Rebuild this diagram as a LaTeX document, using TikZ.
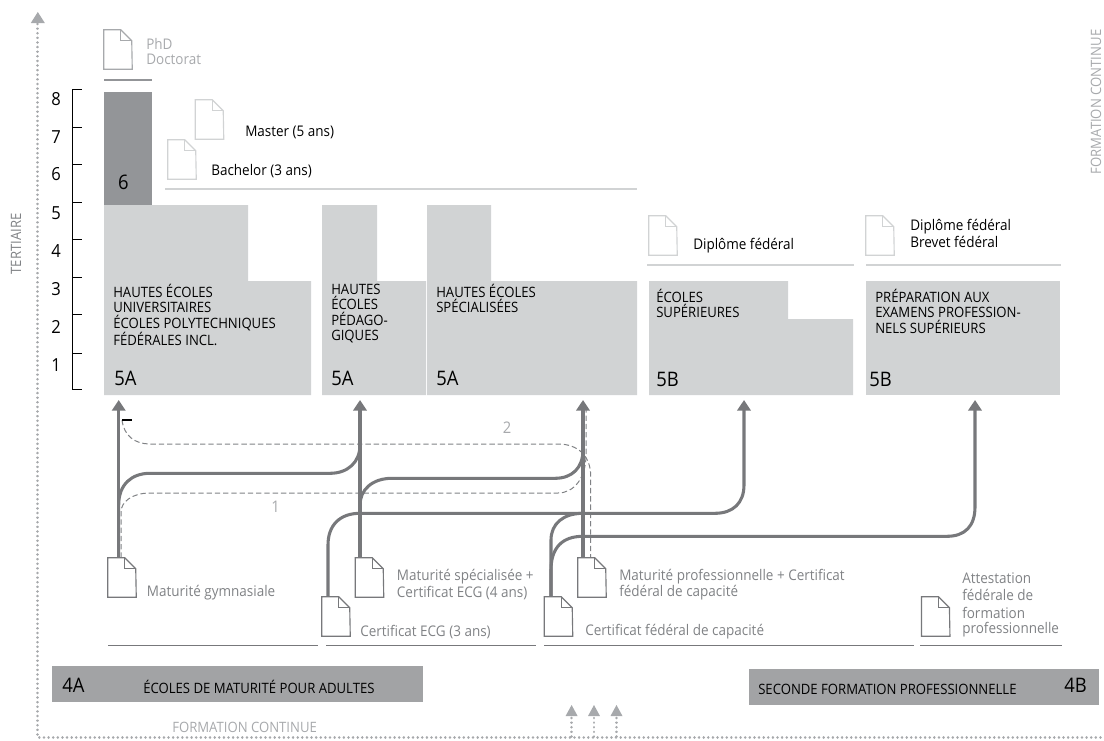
\documentclass[tikz,border=0pt]{standalone}
\usepackage{fontspec}
\setmainfont[FakeStretch=0.92]{Open Sans}
\usetikzlibrary{arrows.meta,calc}
\definecolor{boxl}{HTML}{D1D3D4}
\definecolor{boxd}{HTML}{939598}
\definecolor{boxm}{HTML}{A2A3A5}
\definecolor{ln}{HTML}{77787B}
\definecolor{txtg}{HTML}{808285}
\definecolor{dotc}{HTML}{A7A9AC}
\tikzset{
 x=0.75pt,y=-0.75pt,
 lab/.style={anchor=west,inner sep=0pt,font=\fontsize{11}{11.5}\selectfont,align=left},
 caplab/.style={lab,font=\fontsize{10.7}{11.5}\selectfont},
 boxlab/.style={anchor=north west,inner sep=0pt,font=\fontsize{10.7}{11.5}\selectfont,align=left,text=black},
 num/.style={inner sep=0pt,font=\fontsize{15}{15}\selectfont,text=black},
 lvl/.style={inner sep=0pt,font=\fontsize{13.5}{13.5}\selectfont,text=black},
 glab/.style={lab,text=txtg,font=\fontsize{11}{11.5}\selectfont},
 llab/.style={lab,text=dotc},
 blab/.style={lab,text=black},
 flow/.style={draw=ln,line width=2.3pt,-{Triangle[length=8pt,width=10pt]}},
 flown/.style={draw=ln,line width=2.3pt},
 dashl/.style={draw=txtg,line width=0.75pt,dash pattern=on 4pt off 2.2pt},
 dotl/.style={draw=dotc,line width=2pt,dash pattern=on 0.01pt off 3.45pt,line cap=round},
 dothead/.style={fill=dotc,draw=none},
 rulel/.style={draw=ln,line width=1pt},
 rulem/.style={draw=boxd,line width=1pt},
 rulell/.style={draw=boxl,line width=1pt},
 docnode/.style={inner sep=0pt,minimum width=21pt,minimum height=29.25pt,draw=none,fill=none},
 tick/.style={draw=black,line width=0.7pt},
}
% document icon: name, left x, top y, colour
\newcommand{\docat}[4]{%
 \node[docnode] (#1) at (#2+14,#3+19.5) {};
 \fill[white] (#1.north west) -- ++(17,0) -- ++(11,11) -- (#1.south east) -- (#1.south west) -- cycle;
 \draw[#4,line width=0.85pt] (#1.north west) -- ++(17,0) -- ++(11,11) -- (#1.south east) -- (#1.south west) -- cycle;
 \draw[#4,line width=0.85pt] ($(#1.north west)+(17,0)$) -- ++(0,11) -- ++(11,0);
}
\begin{document}
\begin{tikzpicture}
\useasboundingbox (0,0) rectangle (1104,740);
% dotted frame
\coordinate (axtop) at (37.8,12);
\coordinate (axcorner) at (37.8,737.5);
\coordinate (axend) at (1104,737.5);
\draw[dotl] (37.8,24) -- (axcorner) -- (axend);
\fill[dothead] (axtop) -- ++(7,11) -- ++(-14,0) -- cycle;
\foreach \n/\xx in {a/571.6,b/594,c/616.5}{
  \coordinate (sm\n) at (\xx,705);
  \draw[dotl] (\xx,718) -- (\xx,737.5);
  \fill[dothead] (sm\n) -- ++(6,11) -- ++(-12,0) -- cycle;
}
% level scale
\coordinate (sctop) at (72,89);
\coordinate (scbot) at (72,389);
\draw[tick] (sctop) -- (scbot);
\foreach \yy in {89,127,164,202,239,277,314,353,389}{\draw[tick] (72,\yy) -- (82,\yy);}
\foreach \t/\yy in {8/99,7/137,6/174,5/213,4/251,3/289,2/327,1/365}{\node[lvl] (lv\t) at (56,\yy) {\t};}
% boxes
\fill[boxd] (104,92) rectangle (152,205);
\fill[boxl] (104,205) -- (248,205) -- (248,281) -- (311,281) -- (311,395) -- (104,395) -- cycle;
\fill[boxl] (322,205) -- (377,205) -- (377,281) -- (426,281) -- (426,395) -- (322,395) -- cycle;
\fill[boxl] (427,205) -- (491,205) -- (491,281) -- (637,281) -- (637,395) -- (427,395) -- cycle;
\fill[boxl] (649,281) -- (788,281) -- (788,319) -- (853,319) -- (853,395) -- (649,395) -- cycle;
\fill[boxl] (866,281) rectangle (1060,395);
\fill[boxm] (52,666) rectangle (423,702);
\fill[boxm] (749,669) rectangle (1099,705);
% box texts
\node[num] (n6) at (123.5,182) {6};
\node[num,anchor=west] (n5a) at (114,378) {5A};
\node[num,anchor=west] (n5b) at (331,378) {5A};
\node[num,anchor=west] (n5c) at (436,378) {5A};
\node[num,anchor=west] (n5d) at (656,379) {5B};
\node[num,anchor=west] (n5e) at (869,379) {5B};
\node[num,anchor=west] (n4a) at (62,685) {4A};
\node[num,anchor=east] (n4b) at (1087,685) {4B};
\node[boxlab] (t1) at (113,284) {HAUTES ÉCOLES\\UNIVERSITAIRES\\ÉCOLES POLYTECHNIQUES\\FÉDÉRALES INCL.};
\node[boxlab] (t2) at (331,284) {HAUTES\\ÉCOLES\\PÉDAGO-\\GIQUES};
\node[boxlab] (t3) at (436,284) {HAUTES ÉCOLES\\SPÉCIALISÉES};
\node[boxlab] (t4) at (656,289) {ÉCOLES\\SUPÉRIEURES};
\node[boxlab] (t5) at (875,289) {PRÉPARATION AUX\\EXAMENS PROFESSION-\\NELS SUPÉRIEURS};
\node[caplab,text=black] (t6) at (143,687) {ÉCOLES DE MATURITÉ POUR ADULTES};
\node[caplab,text=black] (t7) at (758,689) {SECONDE FORMATION PROFESSIONNELLE};
\node[caplab,text=dotc] (t8) at (172,727) {FORMATION CONTINUE};
\node[caplab,anchor=center,rotate=90,text=txtg] (t9) at (16,244) {TERTIAIRE};
\node[caplab,anchor=center,rotate=90,text=dotc] (t10) at (1096,102) {FORMATION CONTINUE};
% rules
\draw[rulem] (104,80) -- (152,80);
\draw[rulell] (165,189) -- (637,189);
\draw[rulell] (647,265) -- (854,265);
\draw[rulell] (866,265) -- (1061,265);
\draw[rulel] (108,645.7) -- (318,645.7);
\draw[rulel] (326,645.7) -- (536,645.7);
\draw[rulel] (544,645.7) -- (914,645.7);
\draw[rulel] (920,645.7) -- (1062,645.7);
% upper documents
\docat{dphd}{104}{30}{dotc}
\docat{dmas}{195.5}{100}{boxl}
\docat{dbac}{168}{140}{boxl}
\docat{ddf}{649}{216}{boxl}
\docat{ddb}{866}{216}{boxl}
\node[llab] (lphd) at (146,44) {PhD};
\node[llab] (ldoc) at (146,59) {Doctorat};
\node[blab] (lmas) at (245,132) {Master (5 ans)};
\node[blab] (lbac) at (211,171) {Bachelor (3 ans)};
\node[blab] (ldf) at (693,246) {Diplôme fédéral};
\node[blab] (ldb1) at (910,227) {Diplôme fédéral};
\node[blab] (ldb2) at (910,242) {Brevet fédéral};
% arrow tips
\coordinate (tipa) at (118.7,400);
\coordinate (tipb) at (360,400);
\coordinate (tipc) at (583,400);
\coordinate (tipd) at (744,400);
\coordinate (tipe) at (975,400);
\coordinate (dasha) at (122,420);
\coordinate (tickend) at (132,420);
\coordinate (dashb) at (586,405);
% lower documents (node positions)
\node[docnode] (dgym) at (122,577.5) {};
\node[docnode] (dspe) at (369.5,577.5) {};
\node[docnode] (decg) at (336,616.5) {};
\node[docnode] (dpro) at (592,577.5) {};
\node[docnode] (dcfc) at (558.5,616.5) {};
% dashed routes
\draw[dashl] (dasha) .. controls (124,436) and (135,444) .. (150,444) -- (558,444) .. controls (578,444) and (590.7,456) .. (590.7,476) -- (dpro.north -| 590.7,0);
\draw[dashl] (dgym.north -| 121,0) -- (121,512) .. controls (121,502) and (132,493) .. (150,493) -- (558,493) .. controls (574,493) and (586,478) .. (586,455) -- (dashb);
\draw[black,line width=2pt] (dasha) -- (tickend);
% solid routes
\draw[flown] (dgym.north -| tipa) -- (118.7,505) .. controls (118.7,484) and (132,473.3) .. (150,473.3) -- (330,473.3) .. controls (348,473.3) and (360,462) .. (360,445);
\draw[flown] (dspe.north -| tipb) -- (360,505) .. controls (360,490) and (372,478.3) .. (392,478.3) -- (555,478.3) .. controls (572,478.3) and (583,468) .. (583,450);
\draw[flow] (dgym.north -| tipa) -- (tipa);
\draw[flow] (dspe.north -| tipb) -- (tipb);
\draw[flow] (dpro.north -| tipc) -- (tipc);
\draw[flow] (decg.north -| 328,0) -- (328,545) .. controls (328,525) and (340,513.3) .. (360,513.3) -- (715,513.3) .. controls (733,513.3) and (744,503) .. (744,485) -- (tipd);
\draw[flown] (dcfc.north -| 551,0) -- (551,540) .. controls (551,524) and (563,513.3) .. (583,513.3);
\draw[flow] (dcfc.north -| 551,0) -- (551,570) .. controls (551,548) and (562,536.3) .. (583,536.3) -- (947,536.3) .. controls (965,536.3) and (975,526) .. (975,507) -- (tipe);
% lower document icons
\docat{dgym}{108}{558}{ln}
\docat{dspe}{355.5}{558}{ln}
\docat{decg}{322}{597}{ln}
\docat{dpro}{578}{558}{ln}
\docat{dcfc}{544.5}{597}{ln}
\docat{datt}{921.7}{597}{ln}
% lower labels
\node[glab] (l1) at (146.7,592.5) {Maturité gymnasiale};
\node[glab] (l2) at (396.7,577) {Maturité spécialisée +};
\node[glab] (l3) at (396.7,593) {Certificat ECG (4 ans)};
\node[glab] (l4) at (360,632) {Certificat ECG (3 ans)};
\node[glab] (l5) at (619,577) {Maturité professionnelle + Certificat};
\node[glab] (l6) at (619,593) {fédéral de capacité};
\node[glab] (l7) at (585,632) {Certificat fédéral de capacité};
\node[glab] (l8) at (962,578) {Attestation};
\node[glab] (l9) at (962,595) {fédérale de};
\node[glab] (l10) at (962,613) {formation};
\node[glab] (l11) at (962,630) {professionnelle};
\node[inner sep=0pt,text=dotc,font=\fontsize{12}{12}\selectfont] (r1) at (275.7,507) {1};
\node[inner sep=0pt,text=dotc,font=\fontsize{12}{12}\selectfont] (r2) at (507,428) {2};
\end{tikzpicture}
\end{document}
